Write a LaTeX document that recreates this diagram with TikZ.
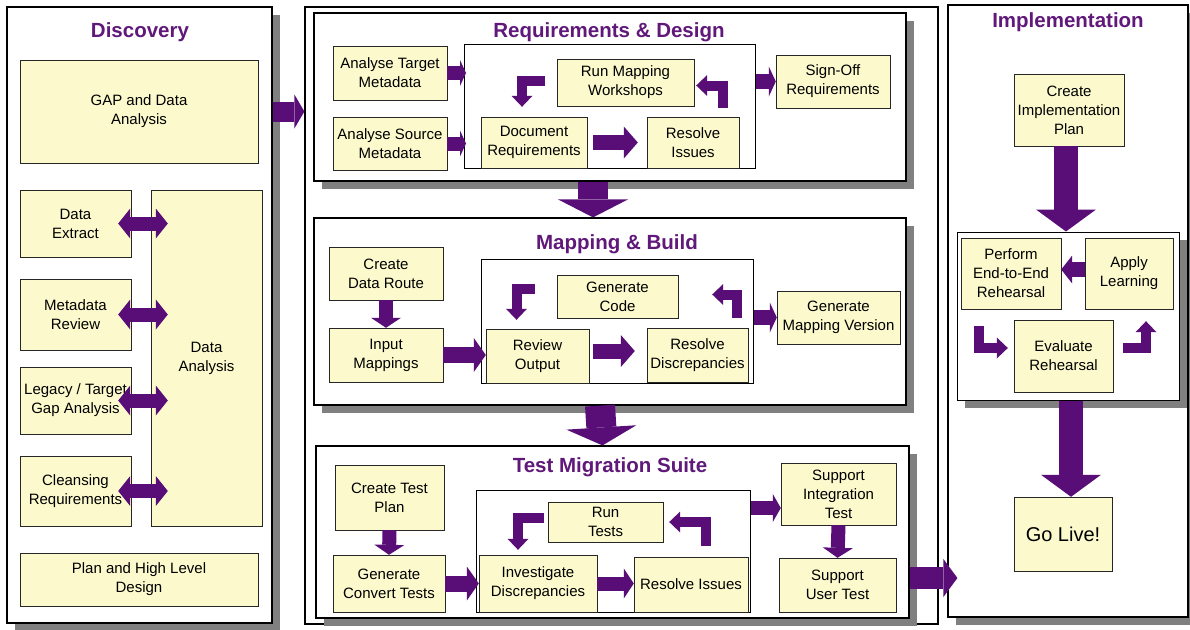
\documentclass[tikz,border=0pt]{standalone}
\usepackage{fontspec}
\setmainfont{Liberation Sans}
\usetikzlibrary{arrows.meta}
\usetikzlibrary{shadows}
\definecolor{boxyellow}{RGB}{252,250,204}
\definecolor{arrowpurple}{RGB}{88,14,118}
\definecolor{titlepurple}{RGB}{96,24,122}

\begin{document}
\begin{tikzpicture}[x=1pt,y=-1pt,
    box/.style={draw=black!85,fill=boxyellow,align=center,inner sep=1pt,
        font=\fontsize{15}{19}\selectfont},
    panel/.style={draw=black,line width=1.2pt,fill=white,inner sep=0pt},
    shadowed/.style={drop shadow={shadow xshift=8pt,shadow yshift=-8pt,fill=black!50,opacity=1}},
    ptitle/.style={text=titlepurple,font=\fontsize{20.5}{24}\bfseries\selectfont},
    fat/.style n args={3}{draw=arrowpurple,line width=#1,
        -{Triangle[width=#2,length=#3,line width=0pt]}},
    fattwo/.style n args={3}{draw=arrowpurple,line width=#1,
        {Triangle[width=#2,length=#3,line width=0pt]}-{Triangle[width=#2,length=#3,line width=0pt]}},
    elb/.style={fat={10pt}{21pt}{11pt},line join=miter}]
    \useasboundingbox (0,0) rectangle (1190,629);

    % panels
    \node[panel,shadowed,minimum width=265pt,minimum height=616pt] (disc) at (139.5,315) {};
    \node[panel,minimum width=633pt,minimum height=617pt] (midframe) at (621.5,315.5) {};
    \node[panel,shadowed,minimum width=592pt,minimum height=168pt] (reqd) at (610,97) {};
    \node[panel,shadowed,minimum width=592pt,minimum height=187pt] (mapb) at (610,311.5) {};
    \node[panel,shadowed,minimum width=593pt,minimum height=172pt] (testm) at (612.5,532) {};
    \node[panel,shadowed,minimum width=240pt,minimum height=612pt] (impl) at (1068,311) {};

    % loop frames
    \node[panel,line width=1pt,minimum width=291pt,minimum height=124pt] (reqloop) at (610,106.5) {};
    \node[panel,line width=1pt,minimum width=272pt,minimum height=124pt] (maploop) at (617,321) {};
    \node[panel,line width=1pt,minimum width=274pt,minimum height=122pt] (testloop) at (613,551) {};
    \node[panel,shadowed,line width=1pt,minimum width=222pt,minimum height=168pt] (implloop) at (1068,316) {};

    % titles
    \node[ptitle] (disct) at (140,32) {Discovery};
    \node[ptitle] (reqdt) at (609,32) {Requirements \& Design};
    \node[ptitle] (mapbt) at (617,244) {Mapping \& Build};
    \node[ptitle] (testmt) at (610,467) {Test Migration Suite};
    \node[ptitle] (implt) at (1068,22) {Implementation};

    % discovery
    \node[box,minimum width=238pt,minimum height=103pt] (gap) at (139,111.5) {GAP and Data\\Analysis};
    \node[box,minimum width=111pt,minimum height=67pt] (dext) at (75.5,223.5) {Data\\Extract};
    \node[box,minimum width=111pt,minimum height=71pt] (mrev) at (75.5,314.5) {Metadata\\Review};
    \node[box,minimum width=111pt,minimum height=67pt] (lgap) at (75.5,400.5) {Legacy / Target\\Gap Analysis};
    \node[box,minimum width=111pt,minimum height=70pt] (clns) at (75.5,491) {Cleansing\\Requirements};
    \node[box,minimum width=111pt,minimum height=336pt] (dana) at (206.5,358) {Data\\Analysis};
    \node[box,minimum width=238pt,minimum height=53pt] (plan) at (139,579.5) {Plan and High Level\\Design};

    % requirements & design
    \node[box,minimum width=114pt,minimum height=54pt] (atm) at (390,73) {Analyse Target\\Metadata};
    \node[box,minimum width=114pt,minimum height=53pt] (asm) at (390,143.5) {Analyse Source\\Metadata};
    \node[box,minimum width=137pt,minimum height=47pt] (rmw) at (625.5,82.5) {Run Mapping\\Workshops};
    \node[box,minimum width=106pt,minimum height=51pt] (docr) at (534,142.5) {Document\\Requirements};
    \node[box,minimum width=92pt,minimum height=51pt] (resi) at (693,142.5) {Resolve\\Issues};
    \node[box,minimum width=114pt,minimum height=53pt] (sor) at (833,81.5) {Sign-Off\\Requirements};

    % mapping & build
    \node[box,minimum width=114pt,minimum height=53pt] (cdr) at (386,273.5) {Create\\Data Route};
    \node[box,minimum width=114pt,minimum height=54pt] (inm) at (386,355) {Input\\Mappings};
    \node[box,minimum width=121pt,minimum height=43pt] (gcd) at (617.5,296.5) {Generate\\Code};
    \node[box,minimum width=103pt,minimum height=54pt] (rvo) at (537.5,356) {Review\\Output};
    \node[box,minimum width=101pt,minimum height=54pt] (rdis) at (697.5,355) {Resolve\\Discrepancies};
    \node[box,minimum width=123pt,minimum height=53pt] (gmv) at (838.5,317.5) {Generate\\Mapping Version};

    % test migration suite
    \node[box,minimum width=109pt,minimum height=65pt] (ctp) at (389.5,497.5) {Create Test\\Plan};
    \node[box,minimum width=112pt,minimum height=57pt] (gct) at (389,583.5) {Generate\\Convert Tests};
    \node[box,minimum width=115pt,minimum height=40pt] (rts) at (605.5,522) {Run\\Tests};
    \node[box,minimum width=118pt,minimum height=57pt] (invd) at (538,583.5) {Investigate\\Discrepancies};
    \node[box,minimum width=114pt,minimum height=55pt] (resit) at (691,584.5) {Resolve Issues};
    \node[box,minimum width=115pt,minimum height=62pt] (sit) at (838.5,494) {Support\\Integration\\Test};
    \node[box,minimum width=117pt,minimum height=54pt] (sut) at (837.5,585) {Support\\User Test};

    % implementation
    \node[box,minimum width=110pt,minimum height=72pt] (cip) at (1069,110) {Create\\Implementation\\Plan};
    \node[box,minimum width=100pt,minimum height=71pt] (pere) at (1011,273.5) {Perform\\End-to-End\\Rehearsal};
    \node[box,minimum width=88pt,minimum height=71pt] (apl) at (1129,273.5) {Apply\\Learning};
    \node[box,minimum width=99pt,minimum height=72pt] (evr) at (1063.5,356) {Evaluate\\Rehearsal};
    \node[box,minimum width=98pt,minimum height=74pt,font=\fontsize{20}{24}\selectfont] (golv) at (1063,534) {Go Live!};

    % arrows
    \foreach \b in {dext,mrev,lgap,clns}
        \draw[fattwo={14pt}{30pt}{12pt}] ([xshift=-13pt]\b.east) -- ([xshift=17pt]\b.east -| dana.west);
    \draw[fat={20pt}{34pt}{10pt}] (gap.east -| disc.east) -- (gap.east -| midframe.west);

    \draw[fat={14pt}{26pt}{6pt}] (atm.east) -- ([xshift=2pt]atm.east -| reqloop.west);
    \draw[fat={14pt}{26pt}{6pt}] (asm.east) -- ([xshift=2pt]asm.east -| reqloop.west);
    \draw[fat={15pt}{32pt}{14pt},shorten <=6pt,shorten >=9pt] (docr.east) -- (docr.east -| resi.west);
    \draw[elb] ([xshift=-12pt,yshift=2pt]rmw.west) -| ([xshift=-12pt,yshift=10pt]docr.north);
    \draw[elb] ([xshift=30pt,yshift=9pt]resi.north) |- ([xshift=2pt,yshift=-3pt]rmw.east);
    \draw[fat={15pt}{30pt}{7pt}] (reqloop.east |- sor.west) -- (sor.west);
    \draw[fat={30pt}{70pt}{18pt}] ([xshift=-17pt]reqd.south) -- ([xshift=-17pt]mapb.north);

    \draw[fat={14pt}{30pt}{10pt}] (cdr.south) -- (inm.north);
    \draw[fat={16pt}{34pt}{12pt}] (inm.east) -- (inm.east -| rvo.west);
    \draw[fat={15pt}{32pt}{14pt},shorten <=4pt,shorten >=12pt] ([yshift=5pt]rvo.east) -- ([yshift=5pt]rvo.east -| rdis.west);
    \draw[elb] ([xshift=-22pt,yshift=8pt]gcd.west) -| ([xshift=-21pt,yshift=9pt]rvo.north);
    \draw[elb] ([xshift=39pt,yshift=10pt]rdis.north) |- ([xshift=34pt,yshift=2pt]gcd.east);
    \draw[fat={15pt}{30pt}{7pt}] (maploop.east |- gmv.west) -- (gmv.west);
    \draw[fat={30pt}{70pt}{18pt}] ([xshift=-10pt]mapb.south) -- ([xshift=-10pt]testm.north);

    \draw[fat={14pt}{30pt}{10pt}] (ctp.south) -- (gct.north);
    \draw[fat={16pt}{34pt}{12pt}] (gct.east) -- (gct.east -| invd.west);
    \draw[fat={14pt}{30pt}{10pt}] (invd.east) -- (invd.east -| resit.west);
    \draw[elb] ([xshift=-4pt,yshift=4pt]rts.west) -| ([xshift=-20pt,yshift=5pt]invd.north);
    \draw[elb] ([xshift=15pt,yshift=11pt]resit.north) |- ([xshift=6pt]rts.east);
    \draw[fat={14pt}{28pt}{8pt}] ([yshift=-14pt]sit.west -| testloop.east) -- ([yshift=-14pt]sit.west);
    \draw[fat={14pt}{30pt}{10pt}] (sit.south) -- (sut.north);
    \draw[fat={22pt}{38pt}{14pt},shorten >=-10pt] ([yshift=7pt]sut.east -| testm.east) -- ([yshift=7pt]sut.east -| impl.west);

    \draw[fat={24pt}{60pt}{22pt}] ([xshift=-3pt]cip.south) -- ([xshift=-3pt]cip.south |- implloop.north);
    \draw[fat={15pt}{28pt}{11pt}] ([yshift=4pt]apl.west) -- ([yshift=4pt]apl.west -| pere.east);
    \draw[elb] ([xshift=-32pt,yshift=-17pt]pere.south) |- ([xshift=-6pt,yshift=8pt]evr.west);
    \draw[elb] ([xshift=10pt,yshift=8pt]evr.east) -| ([xshift=17pt,yshift=-12pt]apl.south);
    \draw[fat={24pt}{60pt}{22pt}] ([xshift=3pt]implloop.south) -- ([xshift=3pt]implloop.south |- golv.north);
\end{tikzpicture}
\end{document}
